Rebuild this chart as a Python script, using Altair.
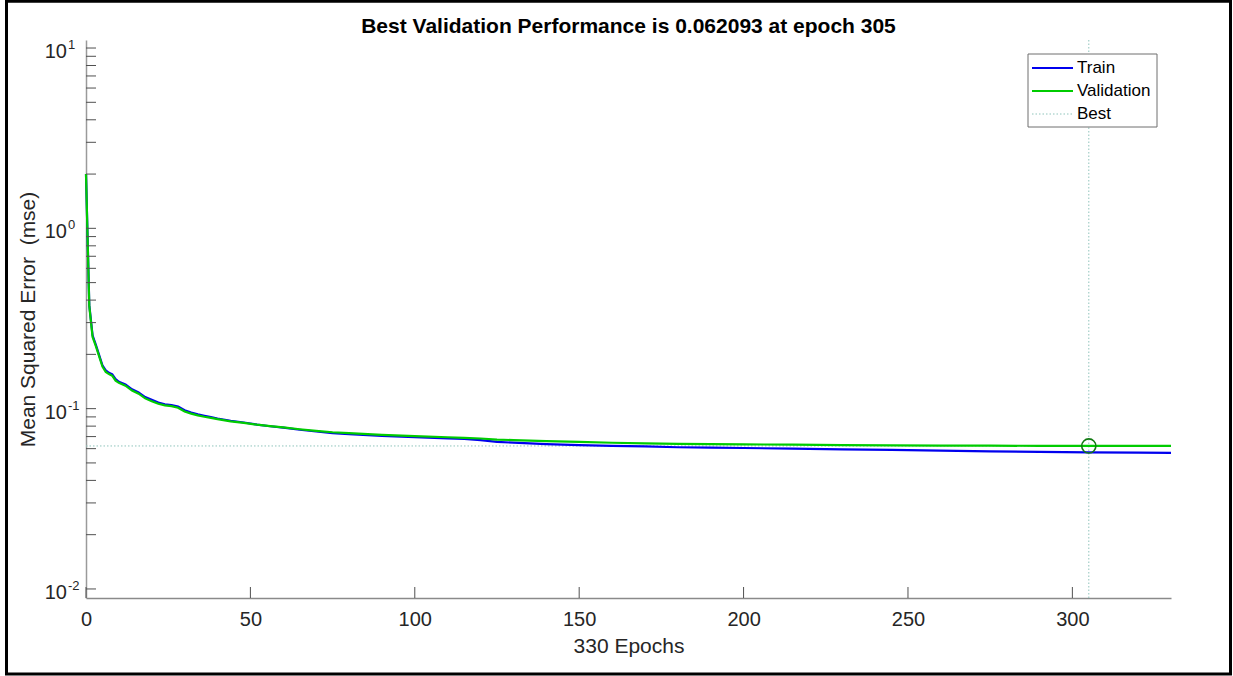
import altair as alt
import pandas as pd

FONT = "Liberation Sans"

# Training record (mean squared error) sampled along the epochs
epochs = [0, 1, 2, 3, 4, 5, 6, 7, 8, 9, 10, 12, 14, 16, 18, 20, 22, 24, 26, 28,
          30, 32, 34, 36, 38, 40, 44, 48, 52, 56, 60, 65, 70, 75, 80, 90, 100,
          110, 115, 120, 125, 130, 140, 150, 160, 170, 180, 190, 200, 215, 230,
          245, 260, 275, 290, 305, 320, 330]
train_mse = [2.0, 0.375, 0.255, 0.226, 0.198, 0.174, 0.163, 0.158, 0.155, 0.146,
             0.141, 0.136, 0.128, 0.123, 0.116, 0.112, 0.108, 0.1058, 0.1048,
             0.1027, 0.0980, 0.0952, 0.0930, 0.0913, 0.0898, 0.0882, 0.0857,
             0.0838, 0.0816, 0.0799, 0.0784, 0.0764, 0.0747, 0.0732, 0.0722,
             0.0707, 0.0695, 0.0685, 0.0679, 0.0669, 0.0654, 0.0648, 0.0636,
             0.0628, 0.0622, 0.0617, 0.0611, 0.0608, 0.0605, 0.0600, 0.0595,
             0.0590, 0.0585, 0.0580, 0.0576, 0.0572, 0.0570, 0.0568]
val_mse = [2.0, 0.37, 0.25, 0.222, 0.195, 0.171, 0.160, 0.1555, 0.152, 0.143,
           0.139, 0.134, 0.126, 0.121, 0.114, 0.110, 0.1065, 0.1042, 0.1033,
           0.1012, 0.0965, 0.0938, 0.0918, 0.0902, 0.0888, 0.0874, 0.0850,
           0.0834, 0.0815, 0.0800, 0.0787, 0.0769, 0.0753, 0.0740, 0.0731,
           0.0716, 0.0704, 0.0694, 0.0689, 0.0683, 0.0674, 0.0669, 0.0661,
           0.0654, 0.0647, 0.0642, 0.0638, 0.0636, 0.0634, 0.0631, 0.0628,
           0.0626, 0.0624, 0.0623, 0.0622, 0.062093, 0.06212, 0.0622]

series_names = ["Train", "Validation", "Best"]
n_epochs = 330
best_epoch = 305
best_perf = 0.062093

x_tick_values = [0, 50, 100, 150, 200, 250, 300]
y_tick_values = [m * 10.0 ** k for k in (-2, -1, 0) for m in range(1, 10)] + [10.0]
decades = [0.01, 0.1, 1.0, 10.0]
decade_exponents = ["-2", "-1", "0", "1"]

title_text = f"Best Validation Performance is {best_perf} at epoch {best_epoch}"

# Layout / styling
W, H = 1085, 558
BLUE = "#0000ee"
GREEN = "#00cc00"
BEST = "#8fc4bb"
MARKER = "#137a13"
TEXT = "#262626"

x_scale = alt.Scale(domain=[0, n_epochs], nice=False, zero=False)
y_scale = alt.Scale(type="log", domain=[0.00891, 11.08], nice=False)

# One axis definition shared by every layer so the layers merge cleanly
X_AXIS = alt.Axis(values=x_tick_values, ticks=False, grid=False,
                  labelFontSize=20, labelFont=FONT, labelColor=TEXT,
                  labelPadding=11, labelFlush=False,
                  domainColor="#8a8a8a", domainWidth=1.5,
                  title=f"{n_epochs} Epochs", titleFont=FONT,
                  titleFontSize=21, titleFontWeight="normal",
                  titleColor=TEXT, titlePadding=6)
Y_AXIS = alt.Axis(labels=False, ticks=False, grid=False,
                  domainColor="#9a9a9a", domainWidth=1.5,
                  title="Mean Squared Error\u00a0 (mse)", titleFont=FONT,
                  titleFontSize=21, titleFontWeight="normal",
                  titleColor=TEXT, titlePadding=48)


def xq(field):
    return alt.X(field, type="quantitative", scale=x_scale, axis=X_AXIS)


def yq(field):
    return alt.Y(field, type="quantitative", scale=y_scale, axis=Y_AXIS)


perf = pd.DataFrame({
    "epoch": epochs * 2,
    "mse": train_mse + val_mse,
    "series": ["Train"] * len(epochs) + ["Validation"] * len(epochs),
})

lines = alt.Chart(perf).mark_line(strokeWidth=2.2).encode(
    x=xq("epoch"),
    y=yq("mse"),
    color=alt.Color("series:N",
                    scale=alt.Scale(domain=series_names[:2], range=[BLUE, GREEN]),
                    legend=None),
)

# Best-epoch guide lines and marker
best_h = alt.Chart(pd.DataFrame({"x0": [0], "x1": [n_epochs], "v": [best_perf]})).mark_rule(
    color=BEST, strokeWidth=1, strokeDash=[1.5, 2]
).encode(x=xq("x0"), x2="x1:Q", y=yq("v"))

best_v = alt.Chart(pd.DataFrame({"e": [best_epoch]})).mark_rule(
    color=BEST, strokeWidth=1, strokeDash=[1.5, 2]
).encode(x=xq("e"), y=alt.value(0), y2=alt.value(H))

best_pt = alt.Chart(pd.DataFrame({"e": [best_epoch], "v": [best_perf]})).mark_point(
    shape="circle", size=200, filled=False, color=MARKER, strokeWidth=1.6, opacity=1
).encode(x=xq("e"), y=yq("v"))

# Inward tick marks
y_ticks = alt.Chart(pd.DataFrame({"v": y_tick_values})).mark_rule(
    color="#505050", strokeWidth=1
).encode(y=yq("v"), x=alt.value(0), x2=alt.value(10))

x_ticks = alt.Chart(pd.DataFrame({"v": x_tick_values})).mark_rule(
    color="#505050", strokeWidth=1
).encode(x=xq("v"), y=alt.value(H), y2=alt.value(H - 11))

# Power-of-ten tick labels
dec_df = pd.DataFrame({"v": decades, "e": decade_exponents})
lab_base = alt.Chart(dec_df).mark_text(
    align="right", baseline="middle", fontSize=20, font=FONT, color=TEXT, dy=4
).encode(y=yq("v"), x=alt.value(-19), text=alt.value("10"))

lab_exp = alt.Chart(dec_df).mark_text(
    align="left", baseline="middle", fontSize=13, font=FONT, color=TEXT, dy=-3
).encode(y=yq("v"), x=alt.value(-18), text="e:N")

# Chart title, centred over the plot area
one = pd.DataFrame({"k": [0]})
title = alt.Chart(one).mark_text(
    align="center", baseline="alphabetic", fontSize=21, fontWeight="bold",
    font=FONT, color="black"
).encode(x=alt.value(W / 2), y=alt.value(-7), text=alt.value(title_text))

# Legend box
legend_layers = [
    alt.Chart(one).mark_rect(fill="white", stroke="#6e6e6e", strokeWidth=1).encode(
        x=alt.value(942), x2=alt.value(1071), y=alt.value(14), y2=alt.value(87)
    )
]
legend_styles = [(BLUE, 2, [1, 0]), (GREEN, 2, [1, 0]), (BEST, 1, [1.5, 2])]
for i, (name, (col, sw, dash)) in enumerate(zip(series_names, legend_styles)):
    yy = 28 + 23 * i
    legend_layers.append(
        alt.Chart(one).mark_rule(color=col, strokeWidth=sw, strokeDash=dash).encode(
            x=alt.value(946), x2=alt.value(987), y=alt.value(yy)
        )
    )
    legend_layers.append(
        alt.Chart(one).mark_text(align="left", baseline="middle", fontSize=17,
                                 font=FONT, color="black").encode(
            x=alt.value(991), y=alt.value(yy), text=alt.value(name)
        )
    )

# Figure frame
frame = alt.Chart(one).mark_rect(fill=None, stroke="black", strokeWidth=3).encode(
    x=alt.value(-79.5), x2=alt.value(1144.5), y=alt.value(-38.7), y2=alt.value(634)
)

chart = alt.layer(
    best_h, best_v, lines, best_pt, y_ticks, x_ticks, lab_base, lab_exp,
    title, *legend_layers, frame
).properties(
    width=W,
    height=H,
    autosize=alt.AutoSizeParams(type="none"),
    padding={"left": 86, "top": 40, "right": 62, "bottom": 78},
    background="white",
).configure_view(stroke=None)

chart.save("out.html", embed_options={"renderer": "svg", "actions": False})
